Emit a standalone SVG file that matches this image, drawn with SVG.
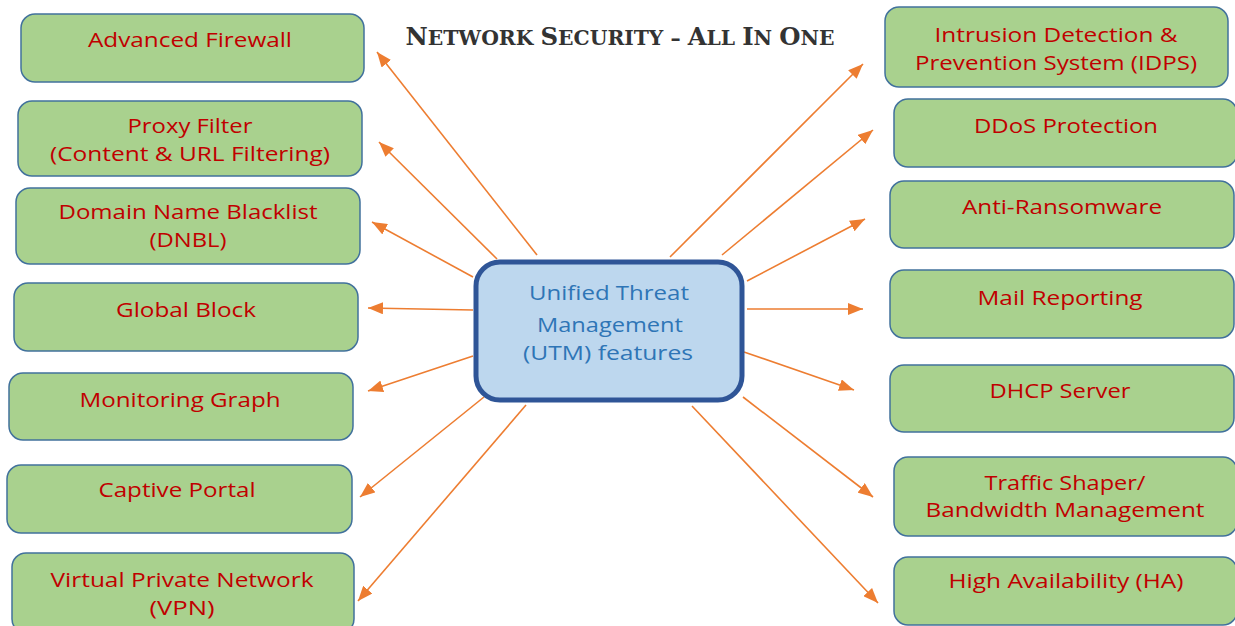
<svg xmlns="http://www.w3.org/2000/svg" width="1235" height="626" viewBox="0 0 1235 626">
<style>
.box{fill:#a9d18e;stroke:#41719c;stroke-width:1.5}
.lbl{font-family:"Open Sans","Liberation Sans",sans-serif;font-size:20px;fill:#c00000;text-anchor:middle}
.ctr{fill:#bdd7ee;stroke:#2f5597;stroke-width:5}
.clbl{font-family:"Open Sans","Liberation Sans",sans-serif;font-size:20px;fill:#2e75b6;text-anchor:middle}
.con{stroke:#ed7d31;stroke-width:1.6;fill:none;marker-end:url(#ah)}
.title{font-family:"DejaVu Serif","Liberation Serif",serif;font-size:20px;font-weight:bold;fill:#333333;text-anchor:middle}
.cap{font-size:24px}
</style>
<defs>
<marker id="ah" markerUnits="userSpaceOnUse" markerWidth="16" markerHeight="12" refX="15" refY="6" orient="auto">
<path d="M0,0 L15,6 L0,12 Z" fill="#ed7d31"/>
</marker>
</defs>
<rect width="1235" height="626" fill="#ffffff"/>
<text id="title" class="title" x="620" y="45" textLength="429" lengthAdjust="spacingAndGlyphs"><tspan class="cap">N</tspan>ETWORK <tspan class="cap">S</tspan>ECURITY – <tspan class="cap">A</tspan>LL <tspan class="cap">I</tspan>N <tspan class="cap">O</tspan>NE</text>
<g id="connectors">
<line class="con" x1="537" y1="255" x2="377" y2="52"/>
<line class="con" x1="497" y1="259" x2="379" y2="142"/>
<line class="con" x1="473" y1="277" x2="372" y2="222"/>
<line class="con" x1="473" y1="310" x2="368" y2="308"/>
<line class="con" x1="473" y1="356" x2="368" y2="391"/>
<line class="con" x1="484" y1="397" x2="360" y2="497"/>
<line class="con" x1="526" y1="405" x2="358" y2="601"/>
<line class="con" x1="670" y1="257" x2="863" y2="64"/>
<line class="con" x1="722" y1="255" x2="873" y2="130"/>
<line class="con" x1="747" y1="281" x2="865" y2="219"/>
<line class="con" x1="747" y1="309" x2="863" y2="309"/>
<line class="con" x1="744" y1="352" x2="854" y2="390"/>
<line class="con" x1="743" y1="397" x2="873" y2="497"/>
<line class="con" x1="692" y1="406" x2="878" y2="603"/>
</g>
<g id="utm">
<rect class="ctr" x="476" y="262" width="266" height="138" rx="24"/>
<text class="clbl" x="609" y="300" textLength="160" lengthAdjust="spacingAndGlyphs">Unified Threat</text>
<text class="clbl" x="610" y="332" textLength="146" lengthAdjust="spacingAndGlyphs">Management</text>
<text class="clbl" x="608" y="360" textLength="170" lengthAdjust="spacingAndGlyphs">(UTM) features</text>
</g>
<g id="advanced-firewall">
<rect class="box" x="21" y="14" width="343" height="68" rx="14"/>
<text class="lbl" x="190" y="47" textLength="204" lengthAdjust="spacingAndGlyphs">Advanced Firewall</text>
</g>
<g id="proxy-filter">
<rect class="box" x="18" y="101" width="344" height="75" rx="14"/>
<text class="lbl" x="190" y="133" textLength="125" lengthAdjust="spacingAndGlyphs">Proxy Filter</text>
<text class="lbl" x="190" y="161" textLength="280" lengthAdjust="spacingAndGlyphs">(Content &amp; URL Filtering)</text>
</g>
<g id="dnbl">
<rect class="box" x="16" y="188" width="344" height="76" rx="14"/>
<text class="lbl" x="188" y="219" textLength="259" lengthAdjust="spacingAndGlyphs">Domain Name Blacklist</text>
<text class="lbl" x="188" y="247" textLength="77" lengthAdjust="spacingAndGlyphs">(DNBL)</text>
</g>
<g id="global-block">
<rect class="box" x="14" y="283" width="344" height="68" rx="14"/>
<text class="lbl" x="186" y="317" textLength="140" lengthAdjust="spacingAndGlyphs">Global Block</text>
</g>
<g id="monitoring-graph">
<rect class="box" x="9" y="373" width="344" height="67" rx="14"/>
<text class="lbl" x="180" y="407" textLength="201" lengthAdjust="spacingAndGlyphs">Monitoring Graph</text>
</g>
<g id="captive-portal">
<rect class="box" x="7" y="465" width="345" height="68" rx="14"/>
<text class="lbl" x="177" y="497" textLength="157" lengthAdjust="spacingAndGlyphs">Captive Portal</text>
</g>
<g id="vpn">
<rect class="box" x="12" y="553" width="342" height="80" rx="14"/>
<text class="lbl" x="182" y="587" textLength="263" lengthAdjust="spacingAndGlyphs">Virtual Private Network</text>
<text class="lbl" x="182" y="615" textLength="65" lengthAdjust="spacingAndGlyphs">(VPN)</text>
</g>
<g id="idps">
<rect class="box" x="885" y="7" width="343" height="80" rx="14"/>
<text class="lbl" x="1056" y="42" textLength="243" lengthAdjust="spacingAndGlyphs">Intrusion Detection &amp;</text>
<text class="lbl" x="1056" y="70" textLength="282" lengthAdjust="spacingAndGlyphs">Prevention System (IDPS)</text>
</g>
<g id="ddos">
<rect class="box" x="894" y="99" width="343" height="68" rx="14"/>
<text class="lbl" x="1066" y="133" textLength="184" lengthAdjust="spacingAndGlyphs">DDoS Protection</text>
</g>
<g id="anti-ransomware">
<rect class="box" x="890" y="181" width="344" height="67" rx="14"/>
<text class="lbl" x="1062" y="214" textLength="200" lengthAdjust="spacingAndGlyphs">Anti-Ransomware</text>
</g>
<g id="mail-reporting">
<rect class="box" x="890" y="270" width="344" height="68" rx="14"/>
<text class="lbl" x="1060" y="305" textLength="165" lengthAdjust="spacingAndGlyphs">Mail Reporting</text>
</g>
<g id="dhcp">
<rect class="box" x="890" y="365" width="344" height="67" rx="14"/>
<text class="lbl" x="1060" y="398" textLength="141" lengthAdjust="spacingAndGlyphs">DHCP Server</text>
</g>
<g id="traffic-shaper">
<rect class="box" x="894" y="457" width="343" height="79" rx="14"/>
<text class="lbl" x="1065" y="490" textLength="161" lengthAdjust="spacingAndGlyphs">Traffic Shaper/</text>
<text class="lbl" x="1065" y="517" textLength="279" lengthAdjust="spacingAndGlyphs">Bandwidth Management</text>
</g>
<g id="ha">
<rect class="box" x="894" y="557" width="343" height="68" rx="14"/>
<text class="lbl" x="1066" y="588" textLength="235" lengthAdjust="spacingAndGlyphs">High Availability (HA)</text>
</g>
</svg>
